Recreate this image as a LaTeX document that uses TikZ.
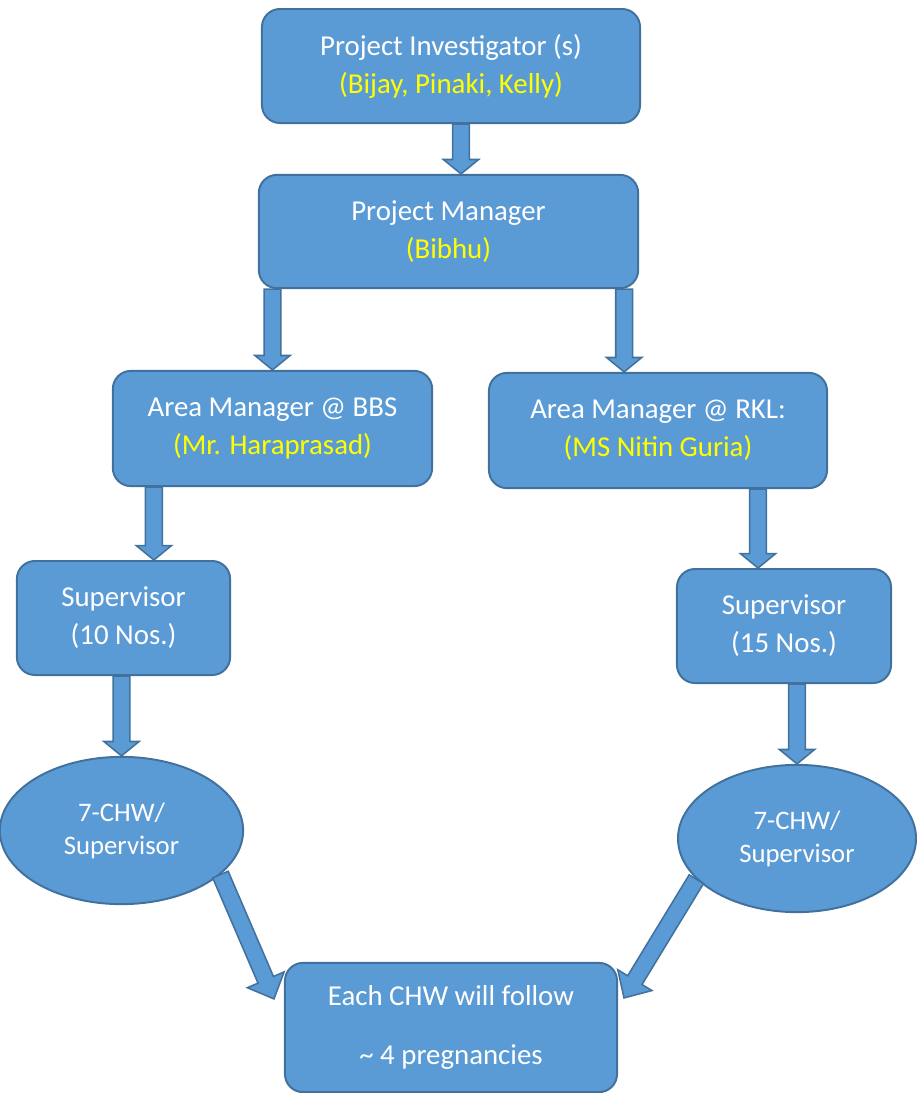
\documentclass[tikz,border=0pt]{standalone}
\usepackage{fontspec}
\setmainfont{Carlito}
\usetikzlibrary{calc, shapes.geometric}

\definecolor{boxfill}{HTML}{5B9BD5}
\definecolor{boxline}{HTML}{41719C}
\definecolor{nameyellow}{HTML}{FFFF00}

\newcommand{\shafthalf}{0.21cm}
\newcommand{\headhalf}{0.44cm}
\newcommand{\headlen}{0.36cm}

% block arrow from #1 to #2
\newcommand{\fatarrow}[2]{%
  \coordinate (fa-h) at ($(#2)!\headlen!(#1)$);
  \draw[blockarrow] ($(#1)!\shafthalf!90:(#2)$) -- ($(fa-h)!\shafthalf!90:(#2)$)
    -- ($(fa-h)!\headhalf!90:(#2)$) -- (#2) -- ($(fa-h)!\headhalf!-90:(#2)$)
    -- ($(fa-h)!\shafthalf!-90:(#2)$) -- ($(#1)!\shafthalf!-90:(#2)$) -- cycle;
}

\begin{document}
\begin{tikzpicture}[
    x=0.025cm, y=-0.025cm,
    font=\fontsize{20.5}{27}\selectfont,
    orgbox/.style={rectangle, rounded corners=0.45cm, draw=boxline, line width=1.4pt, fill=boxfill, text=white, align=center, inner sep=0pt},
    chwoval/.style={ellipse, draw=boxline, line width=1.4pt, fill=boxfill, text=white, align=center, inner sep=0pt, font=\fontsize{19}{23.5}\selectfont},
    blockarrow/.style={draw=boxline, line width=1.1pt, fill=boxfill, line join=miter}
]
\useasboundingbox (0,0) rectangle (916,1093);

% Top of the chart
\node[orgbox, minimum width=9.45cm, minimum height=2.85cm] (pi) at (451,66) {Project Investigator (s)\\\textcolor{nameyellow}{(Bijay, Pinaki, Kelly)}};
\node[orgbox, minimum width=9.48cm, minimum height=2.83cm] (pm) at (448.5,231.5) {Project Manager\\\textcolor{nameyellow}{(Bibhu)}};

% Area managers
\node[orgbox, minimum width=7.98cm, minimum height=2.88cm] (bbs) at (272.5,428.5) {Area Manager @ BBS\\\textcolor{nameyellow}{(Mr. Haraprasad)}};
\node[orgbox, minimum width=8.45cm, minimum height=2.88cm] (rkl) at (658,430.5) {Area Manager @ RKL:\\\textcolor{nameyellow}{(MS Nitin Guria)}};

% Supervisors
\node[orgbox, minimum width=5.33cm, minimum height=2.85cm] (supa) at (123.5,618) {Supervisor\\(10 Nos.)};
\node[orgbox, minimum width=5.35cm, minimum height=2.85cm] (supb) at (784,626) {Supervisor\\(15 Nos.)};

% CHW ovals
\node[chwoval, minimum width=6.08cm, minimum height=3.68cm] (cl) at (121.5,830.5) {7-CHW/\\Supervisor};
\node[chwoval, minimum width=5.95cm, minimum height=3.68cm] (cr) at (797,838.5) {7-CHW/\\Supervisor};

% Bottom box
\node[orgbox, minimum width=8.3cm, minimum height=3.23cm] (each) at (451,1027.5) {Each CHW will follow\\[15pt]\textasciitilde{} 4 pregnancies};

% Arrows
\coordinate (pi-out) at ($(pi.south)+(10,0)$);
\coordinate (pm-out) at ($(pm.south east)+(-15,0)$);
\coordinate (bbs-out) at ($(bbs.south west)+(42,0)$);
\coordinate (rkl-out) at ($(rkl.south east)+(-70,0)$);
\fatarrow{pi-out}{pi-out |- pm.north}
\fatarrow{bbs.north |- pm.south}{bbs.north}
\fatarrow{pm-out}{pm-out |- rkl.north}
\fatarrow{bbs-out}{bbs-out |- supa.north}
\fatarrow{rkl-out}{rkl-out |- supb.north}
\fatarrow{cl.north |- supa.south}{cl.north}
\fatarrow{cr.north |- supb.south}{cr.north}

% Diagonal arrows into the bottom box
\renewcommand{\headlen}{0.52cm}
\renewcommand{\headhalf}{0.5cm}
\coordinate (tip-l) at ($(each.north west)+(-10,37)$);
\coordinate (tip-r) at ($(each.north east)+(6,36)$);
\fatarrow{cl.-24}{tip-l}
\fatarrow{cr.-158}{tip-r}

\end{tikzpicture}
\end{document}
